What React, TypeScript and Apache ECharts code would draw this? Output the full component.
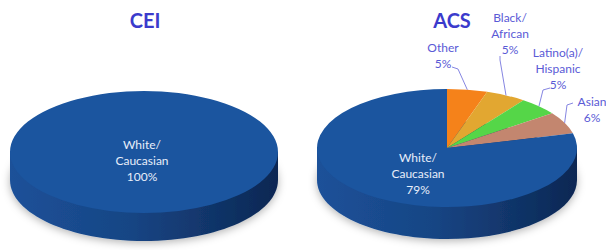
import React, { useEffect, useRef } from "react";
import * as echarts from "echarts";

// ---- data ----
const CEI_TITLE = "CEI";
const CEI_CATEGORIES = ["White/\nCaucasian"];
const CEI_VALUES = [100];

const ACS_TITLE = "ACS";
const ACS_CATEGORIES = ["Other", "Black/\nAfrican", "Latino(a)/\nHispanic", "Asian", "White/\nCaucasian"];
const ACS_VALUES = [5, 5, 5, 6, 79];

// ---- styles / layout ----
const CEI_COLORS = ["#1b559f"];
const ACS_COLORS = ["#f5821a", "#e2a731", "#55d648", "#c3866f", "#1b559f"];

type LabelLayout = { inside?: boolean; x: number; y: number; line?: number[][] };
type PieLayout = { cx: number; cy: number; rx: number; ry: number; depth: number; labels: LabelLayout[] };

const CEI_LAYOUT: PieLayout = {
  cx: 144, cy: 152, rx: 134, ry: 61, depth: 28,
  labels: [{ inside: true, x: 142, y: 160 }],
};
const ACS_LAYOUT: PieLayout = {
  cx: 447, cy: 148, rx: 130, ry: 59, depth: 32,
  labels: [
    { x: 443, y: 55, line: [[458, 69], [452, 67]] },
    { x: 510, y: 33, line: [[500, 60], [500, 56]] },
    { x: 558, y: 68, line: [[543, 90], [550, 88]] },
    { x: 592, y: 109, line: [[567, 105], [573, 103]] },
    { inside: true, x: 418, y: 173 },
  ],
};

const LABEL_COLOR = "#5a5ad6";
const LINE_COLOR = "#8686e2";
const FONT = "Lato, 'Open Sans', sans-serif";

function makeSeries(name: string, cats: string[], vals: number[], colors: string[], L: PieLayout) {
  const total = vals.reduce((a, b) => a + b, 0);
  const cum: number[] = [];
  let acc = 0;
  vals.forEach((v) => {
    cum.push(acc);
    acc += v;
  });
  return {
    type: "custom",
    name,
    coordinateSystem: "none",
    data: vals.map((v) => [v]),
    renderItem: (params: any, api: any) => {
      const i = params.dataIndex;
      const v = api.value(0);
      const a0 = -Math.PI / 2 + (2 * Math.PI * cum[i]) / total;
      const a1 = a0 + (2 * Math.PI * v) / total;
      const children: any[] = [];
      if (i === 0) {
        const sideFill = {
          type: "linear", x: 0, y: 0, x2: 1, y2: 0,
          colorStops: [
            { offset: 0, color: "#1c5199" },
            { offset: 0.45, color: "#174584" },
            { offset: 1, color: "#0c2753" },
          ],
        };
        children.push({
          type: "ellipse",
          shape: { cx: L.cx, cy: L.cy + L.depth, rx: L.rx, ry: L.ry },
          style: {
            fill: sideFill,
            shadowBlur: 8,
            shadowColor: "rgba(0,0,0,0.3)",
            shadowOffsetY: 2,
          },
        });
        children.push({
          type: "rect",
          shape: { x: L.cx - L.rx, y: L.cy, width: 2 * L.rx, height: L.depth },
          style: { fill: sideFill },
        });
      }
      children.push({
        type: "sector",
        x: L.cx,
        y: L.cy,
        scaleY: L.ry / L.rx,
        shape: { cx: 0, cy: 0, r: L.rx, r0: 0, startAngle: a0, endAngle: a1, clockwise: true },
        style: { fill: colors[i] },
      });
      const lab = L.labels[i];
      const text = `${cats[i]}\n${Math.round((v / total) * 100)}%`;
      if (lab) {
        if (!lab.inside && lab.line) {
          const m = (a0 + a1) / 2;
          const px = L.cx + L.rx * Math.cos(m);
          const py = L.cy + L.ry * Math.sin(m);
          children.push({
            type: "polyline",
            shape: { points: [[px, py], ...lab.line] },
            style: { stroke: LINE_COLOR, lineWidth: 1, fill: null },
          });
        }
        children.push({
          type: "text",
          style: {
            text,
            x: lab.x,
            y: lab.y,
            align: "center",
            verticalAlign: "middle",
            fill: lab.inside ? "#e8eefa" : LABEL_COLOR,
            fontSize: 12,
            lineHeight: 16,
            fontFamily: FONT,
          },
        });
      }
      return { type: "group", children };
    },
  };
}

export default function App() {
  const ref = useRef<HTMLDivElement>(null);
  useEffect(() => {
    if (!ref.current) return;
    const chart = echarts.init(ref.current, undefined, { renderer: "svg" });
    chart.setOption({
      animation: false,
      backgroundColor: "#ffffff",
      title: [
        {
          text: CEI_TITLE, left: 140, top: 5, textAlign: "center",
          textStyle: { color: "#3b3bcc", fontSize: 20, fontWeight: "bold", fontFamily: FONT },
        },
        {
          text: ACS_TITLE, left: 447, top: 5, textAlign: "center",
          textStyle: { color: "#3b3bcc", fontSize: 20, fontWeight: "bold", fontFamily: FONT },
        },
      ],
      series: [
        makeSeries("CEI", CEI_CATEGORIES, CEI_VALUES, CEI_COLORS, CEI_LAYOUT),
        makeSeries("ACS", ACS_CATEGORIES, ACS_VALUES, ACS_COLORS, ACS_LAYOUT),
      ],
    });
    return () => chart.dispose();
  }, []);
  return (
    <div
      ref={ref}
      style={{ position: "absolute", left: 0, top: 0, width: 606, height: 250 }}
    />
  );
}
